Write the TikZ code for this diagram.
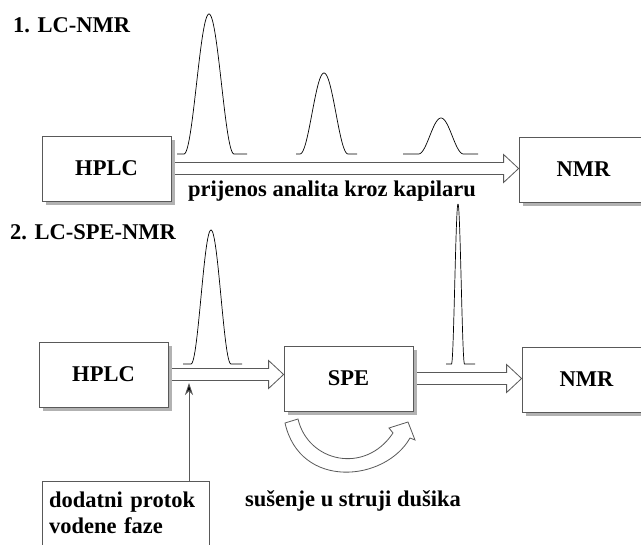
\documentclass[tikz,border=0pt]{standalone}
\usepackage{fontspec}
\setmainfont{Liberation Serif}
\usepackage{tikz}
\usetikzlibrary{arrows.meta,shadows,backgrounds}

% hollow transfer line between two units
\newcommand{\pipe}[2]{%
  \path (#1.east -| #2.west) coordinate (tip);
  \draw[pipeline] ([shift={(0,-6)}]#1.east) -- ([shift={(-15,-6)}]tip)
    -- ([shift={(-15,-14)}]tip) -- (tip) -- ([shift={(-15,14)}]tip)
    -- ([shift={(-15,6)}]tip) -- ([shift={(0,6)}]#1.east) -- cycle;}

% chromatographic peak: baseline, from, to, centre, height, half width
\newcommand{\peak}[6]{%
  \draw[signal] (#2,#1) -- (#4-#6,#1)
    -- plot[domain=#4-#6:#4+#6,samples=60]
       (\x,{#1-#5*(0.5+0.5*cos(180*(\x-#4)/#6))})
    -- (#3,#1);}

\begin{document}
\begin{tikzpicture}[x=1pt,y=-1pt]

  \tikzstyle{unit}=[rectangle,draw=black!65,line width=0.8pt,fill=white,
                    minimum width=129pt,minimum height=65pt,
                    font=\fontsize{22.5}{26}\selectfont\bfseries,
                    drop shadow={shadow xshift=4pt,shadow yshift=-4pt,
                                 fill=black!30,opacity=1}]
  \tikzstyle{title}=[anchor=base west,inner sep=0pt,
                     font=\fontsize{22.5}{26}\selectfont\bfseries]
  \tikzstyle{note}=[anchor=base,inner sep=0pt,
                    font=\fontsize{22.5}{26}\selectfont\bfseries]
  \tikzstyle{pipeline}=[draw=black!65,line width=0.8pt,fill=white]
  \tikzstyle{signal}=[black,line width=0.7pt]
  \tikzstyle{feed}=[draw=black!65,line width=0.8pt,
                    -{Stealth[length=12pt,width=8pt,fill=black]}]

  \useasboundingbox (0,0) rectangle (641,545);

  % 1. LC-NMR
  \node[title] (lcnmr) at (13,33) {1. LC-NMR};
  \node[unit] (hplc1) at (106.5,168.5) {HPLC};
  \node[unit] (nmr1)  at (583.5,169.5) {NMR};
  \node[note] (transfer) at (332,197) {prijenos analita kroz kapilaru};

  % 2. LC-SPE-NMR
  \node[title] (lcspenmr) at (10,240) {2. LC-SPE-NMR};
  \node[unit] (hplc2) at (103.5,374.5) {HPLC};
  \node[unit] (spe)   at (348.5,378.5) {SPE};
  \node[unit] (nmr2)  at (586.5,379.5) {NMR};
  \node[note] (drying) at (353,507) {sušenje u struji dušika};
  \node[anchor=north west,align=left,text width=153pt,inner xsep=7pt,
        inner ysep=11pt,font=\fontsize{22.5}{26}\selectfont\bfseries]
        (makeup) at (42,481) {dodatni protok\\vodene faze};
  \draw[pipeline,fill=none] ([yshift=-20pt]makeup.south west)
        |- (makeup.north east) -- ([yshift=-20pt]makeup.south east);

  \begin{pgfonlayer}{background}
    \pipe{hplc1}{nmr1}
    \pipe{hplc2}{spe}
    \pipe{spe}{nmr2}
  \end{pgfonlayer}

  \coordinate (inlet) at (189,383);
  \draw[feed] (makeup.north -| inlet) -- (inlet);

  % peaks
  \peak{154}{177}{247}{209}{140}{25}
  \peak{154}{296}{357}{324}{81}{24}
  \peak{154}{403}{478}{441}{36}{22.5}
  \peak{364}{183}{242}{211}{134}{20}
  \peak{364}{446}{475}{458}{160}{6.5}

  % nitrogen drying
  \draw[pipeline] (298,419) .. controls (308,462) and (365,475) .. (393,433)
    -- (389,428) -- (408,422) -- (415,440) -- (410,438)
    .. controls (385,482) and (300,490) .. (285,423) -- cycle;

\end{tikzpicture}
\end{document}
